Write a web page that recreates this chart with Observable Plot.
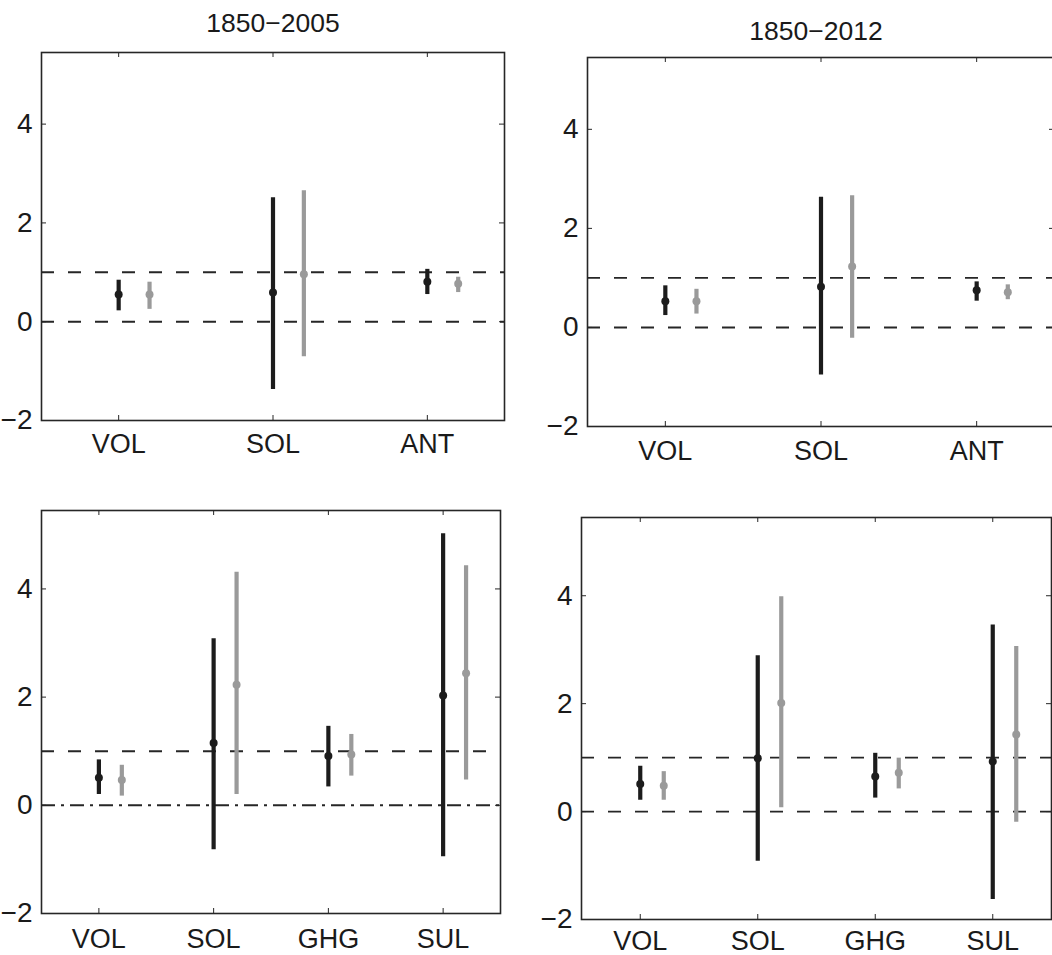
<!DOCTYPE html>
<html>
<head>
<meta charset="utf-8">
<script src="https://cdn.jsdelivr.net/npm/d3@7"></script>
<script src="https://cdn.jsdelivr.net/npm/@observablehq/plot@0.6"></script>
<style>
  html, body { margin: 0; padding: 0; background: #fff; overflow: hidden; }
  #wrap { position: relative; width: 1052px; height: 955px; overflow: hidden; background: #fff; }
  .panel { position: absolute; }
  .panel svg { overflow: visible; max-width: none !important; display: block; }
</style>
</head>
<body>
<div id="wrap"></div>
<script>
// ---------- data ----------
const catsTop = ["VOL", "SOL", "ANT"];
const catsBottom = ["VOL", "SOL", "GHG", "SUL"];
const yTicks = [-2, 0, 2, 4];
const titles = ["1850\u22122005", "1850\u22122012"];

// top-left: 1850–2005, three forcings
const tlBlackMid = [0.55, 0.59, 0.81];
const tlBlackLo  = [0.22, -1.37, 0.55];
const tlBlackHi  = [0.84, 2.51, 1.06];
const tlGrayMid  = [0.55, 0.96, 0.77];
const tlGrayLo   = [0.25, -0.71, 0.59];
const tlGrayHi   = [0.80, 2.65, 0.90];

// top-right: 1850–2012, three forcings
const trBlackMid = [0.53, 0.82, 0.75];
const trBlackLo  = [0.24, -0.96, 0.53];
const trBlackHi  = [0.84, 2.63, 0.92];
const trGrayMid  = [0.53, 1.23, 0.71];
const trGrayLo   = [0.27, -0.22, 0.56];
const trGrayHi   = [0.77, 2.66, 0.86];

// bottom-left: 1850–2005, four forcings
const blBlackMid = [0.51, 1.15, 0.91, 2.03];
const blBlackLo  = [0.20, -0.82, 0.34, -0.95];
const blBlackHi  = [0.84, 3.08, 1.46, 5.02];
const blGrayMid  = [0.47, 2.23, 0.94, 2.44];
const blGrayLo   = [0.17, 0.20, 0.54, 0.47];
const blGrayHi   = [0.74, 4.31, 1.31, 4.43];

// bottom-right: 1850–2012, four forcings
const brBlackMid = [0.51, 0.99, 0.65, 0.93];
const brBlackLo  = [0.21, -0.92, 0.25, -1.63];
const brBlackHi  = [0.84, 2.89, 1.08, 3.46];
const brGrayMid  = [0.48, 2.01, 0.72, 1.43];
const brGrayLo   = [0.21, 0.07, 0.42, -0.20];
const brGrayHi   = [0.74, 3.98, 0.99, 3.06];

// ---------- drawing ----------
const BLACK = "#1c1c1c";
const GRAY = "#9a9a9a";
const AX = "#262626";
const FONT = "'Liberation Sans', Arial, Helvetica, sans-serif";

function rows(cats, mid, lo, hi, series) {
  return cats.map((c, i) => ({cat: c, i: i + 1, series, mid: mid[i], lo: lo[i], hi: hi[i]}));
}

function panel({left, top, ml, mt, fw, fh, mr, mb, cats, black, gray, title, titleDy, titleDx, dashDot, padX}) {
  const n = cats.length;
  const idx = cats.map((c, i) => i + 1);
  const data = [
    ...rows(cats, black[0], black[1], black[2], "black"),
    ...rows(cats, gray[0], gray[1], gray[2], "gray")
  ];
  const xOf = d => d.i + (d.series === "gray" ? 0.2 : 0);
  const colorOf = d => d.series === "gray" ? GRAY : BLACK;
  const marks = [
    // reference lines
    Plot.ruleY([1], {stroke: AX, strokeWidth: 1.9, strokeDasharray: "13,14"}),
    Plot.ruleY([0], {stroke: AX, strokeWidth: 1.9, strokeDasharray: dashDot ? "14,6,3,6" : "13,14"}),
    // inner ticks
    Plot.tickX(idx, {x: d => d, insetTop: fh - 5, stroke: AX, strokeWidth: 1}),
    Plot.tickX(idx, {x: d => d, insetBottom: fh - 5, stroke: AX, strokeWidth: 1}),
    Plot.tickY(yTicks, {y: d => d, insetRight: fw - 5, stroke: AX, strokeWidth: 1}),
    Plot.tickY(yTicks, {y: d => d, insetLeft: fw - 5, stroke: AX, strokeWidth: 1}),
    // error bars and best estimates
    Plot.ruleX(data, {x: xOf, y1: "lo", y2: "hi", stroke: colorOf, strokeWidth: 4.2}),
    Plot.dot(data, {x: xOf, y: "mid", r: 4, fill: colorOf, stroke: "none"}),
    // frame
    Plot.frame({stroke: AX, strokeWidth: 1.6}),
    // axes labels
    Plot.axisY({ticks: yTicks, tickSize: 0, tickPadding: 9, fontSize: 28, fill: "#1a1a1a"}),
    Plot.axisX({ticks: idx, tickFormat: d => cats[d - 1], tickSize: 0, tickPadding: padX, fontSize: 27, fill: "#1a1a1a"})
  ];
  if (title) {
    marks.push(Plot.text([title], {text: d => d, frameAnchor: "top", lineAnchor: "top", dy: titleDy, dx: titleDx || 0, fontSize: 26.5, fill: "#1a1a1a"}));
  }
  const W = ml + fw + mr, H = mt + fh + mb;
  const chart = Plot.plot({
    width: W,
    height: H,
    marginLeft: ml, marginTop: mt, marginRight: mr, marginBottom: mb,
    x: {type: "linear", domain: [0.5, n + 0.5]},
    y: {domain: [-2, 5.45]},
    style: {fontFamily: FONT, fontSize: "27px", background: "transparent", overflow: "visible", maxWidth: "none"},
    marks
  });
  const div = document.createElement("div");
  div.className = "panel";
  div.style.left = left + "px";
  div.style.top = top + "px";
  div.style.width = W + "px";
  div.style.height = H + "px";
  div.appendChild(chart);
  document.getElementById("wrap").appendChild(div);
}

panel({left: 0, top: 0, ml: 41, mt: 52, fw: 463, fh: 368, mr: 10, mb: 40,
  cats: catsTop, black: [tlBlackMid, tlBlackLo, tlBlackHi], gray: [tlGrayMid, tlGrayLo, tlGrayHi],
  title: titles[0], titleDy: -39, padX: 13});
panel({left: 530, top: 0, ml: 57, mt: 57, fw: 467, fh: 369, mr: 10, mb: 40,
  cats: catsTop, black: [trBlackMid, trBlackLo, trBlackHi], gray: [trGrayMid, trGrayLo, trGrayHi],
  title: titles[1], titleDy: -36, titleDx: -5, padX: 14});
panel({left: 0, top: 470, ml: 41, mt: 40, fw: 459, fh: 403, mr: 10, mb: 40,
  cats: catsBottom, black: [blBlackMid, blBlackLo, blBlackHi], gray: [blGrayMid, blGrayLo, blGrayHi],
  dashDot: true, padX: 15});
panel({left: 530, top: 477, ml: 51, mt: 40, fw: 470, fh: 402, mr: 10, mb: 36,
  cats: catsBottom, black: [brBlackMid, brBlackLo, brBlackHi], gray: [brGrayMid, brGrayLo, brGrayHi],
  padX: 11});
</script>
</body>
</html>
